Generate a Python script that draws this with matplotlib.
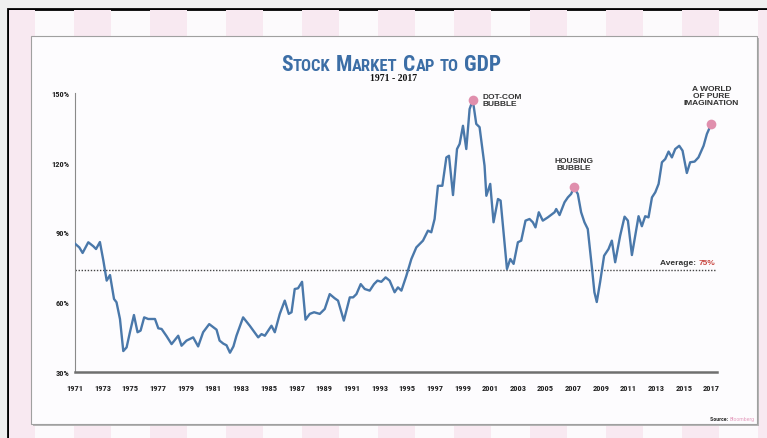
import matplotlib
matplotlib.use("Agg")
import matplotlib.pyplot as plt
from matplotlib.patches import Rectangle
from matplotlib import font_manager as fm

# market cap / GDP (%)
years = [1971.0, 1971.31, 1971.55, 1971.96, 1972.32, 1972.52, 1972.8, 1973.05, 1973.29, 1973.53,
         1973.82, 1974.0, 1974.25, 1974.49, 1974.73, 1974.97, 1975.26, 1975.52, 1975.74, 1976.0,
         1976.29, 1976.78, 1977.02, 1977.26, 1977.62, 1977.98, 1978.46, 1978.7, 1979.06, 1979.54,
         1979.9, 1980.26, 1980.7, 1981.23, 1981.45, 1981.72, 1981.95, 1982.2, 1982.45, 1982.67,
         1983.15, 1983.63, 1984.24, 1984.48, 1984.72, 1985.2, 1985.44, 1985.8, 1986.16, 1986.45,
         1986.65, 1986.88, 1987.12, 1987.41, 1987.66, 1987.97, 1988.28, 1988.69, 1989.05, 1989.41,
         1989.77, 1990.01, 1990.43, 1990.86, 1991.1, 1991.34, 1991.65, 1991.94, 1992.3, 1992.61,
         1992.86, 1993.14, 1993.45, 1993.74, 1994.1, 1994.34, 1994.59, 1994.95, 1995.31, 1995.67,
         1996.15, 1996.51, 1996.75, 1996.99, 1997.23, 1997.55, 1997.84, 1998.03, 1998.32, 1998.61,
         1998.8, 1999.04, 1999.28, 1999.52, 1999.75, 2000.0, 2000.24, 2000.6, 2000.73, 2001.01,
         2001.25, 2001.57, 2001.76, 2002.22, 2002.46, 2002.7, 2003.01, 2003.25, 2003.56, 2003.85,
         2004.09, 2004.28, 2004.52, 2004.81, 2005.17, 2005.66, 2005.78, 2006.02, 2006.38, 2006.62,
         2006.86, 2007.05, 2007.34, 2007.58, 2007.82, 2008.06, 2008.37, 2008.54, 2008.71, 2008.95,
         2009.24, 2009.56, 2009.8, 2010.04, 2010.4, 2010.72, 2010.96, 2011.25, 2011.49, 2011.73,
         2011.97, 2012.21, 2012.45, 2012.7, 2012.94, 2013.18, 2013.42, 2013.66, 2013.9, 2014.14,
         2014.38, 2014.67, 2014.91, 2015.22, 2015.46, 2015.78, 2016.06, 2016.43, 2016.67, 2016.99]
values = [85.2, 83.6, 81.2, 85.8, 84.1, 82.9, 85.9, 77.9, 69.3, 71.7,
          61.4, 60.0, 52.8, 39.0, 40.6, 47.1, 54.5, 47.1, 47.8, 53.5,
          52.8, 52.8, 48.8, 48.5, 45.4, 42.0, 45.6, 41.3, 43.5, 44.9,
          41.0, 47.1, 50.6, 48.2, 43.5, 42.2, 41.5, 38.3, 41.0, 45.6,
          53.5, 49.9, 44.9, 46.3, 45.6, 49.9, 47.1, 55.0, 60.7, 55.0,
          55.7, 65.7, 66.0, 68.8, 52.5, 55.0, 55.7, 55.0, 57.1, 63.5,
          61.7, 60.7, 52.1, 62.1, 62.1, 63.5, 67.8, 65.7, 65.0, 67.8,
          69.3, 68.8, 70.7, 69.3, 64.3, 66.4, 65.0, 71.4, 78.6, 83.6,
          86.5, 90.8, 90.1, 95.8, 110.1, 110.1, 122.3, 123.0, 106.1, 125.9,
          128.1, 135.9, 125.9, 143.1, 147.0, 136.7, 135.3, 118.7, 105.8, 110.9,
          94.4, 104.4, 103.7, 74.3, 78.6, 76.5, 85.8, 86.5, 95.1, 95.8,
          94.4, 92.2, 98.7, 95.1, 96.5, 98.7, 100.1, 97.5, 103.0, 105.1,
          106.6, 109.4, 106.6, 98.7, 94.4, 91.5, 74.3, 64.3, 60.1, 68.6,
          80.0, 82.9, 86.5, 77.2, 88.6, 96.8, 95.1, 80.3, 88.6, 97.0,
          92.7, 97.0, 96.5, 105.1, 107.3, 110.9, 120.2, 121.6, 124.8, 122.3,
          125.9, 127.3, 125.2, 115.6, 120.2, 120.5, 122.3, 127.3, 132.4, 136.7]

peak_years = [1999.75, 2007.05, 2016.99]
peak_vals = [147.0, 109.4, 136.7]
peak_labels = ["DOT-COM\nBUBBLE", "HOUSING\nBUBBLE", "A WORLD\nOF PURE\nIMAGINATION"]

average = 74.0
average_label = "75%"
y_ticks = [30, 60, 90, 120, 150]
x_ticks = list(range(1971, 2018, 2))

title = "Stock Market Cap to GDP"
subtitle = "1971 - 2017"

W, H = 767, 439

# pick a narrow sans if one is installed
fonts = fm.fontManager.ttflist
names = {f.name for f in fonts}
if "Liberation Sans Narrow" in names:
    narrow = dict(family="Liberation Sans Narrow")
elif "Roboto Condensed" in names:
    narrow = dict(family="Roboto Condensed")
elif any(f.name == "DejaVu Sans" and f.stretch == "condensed" for f in fonts):
    narrow = dict(family="DejaVu Sans", stretch="condensed")
else:
    narrow = dict(family="Liberation Sans")
wide = dict(family="Liberation Sans")


def rect(x0, y0, x1, y1, **kw):
    # pixel box (top-left origin) -> figure rectangle
    r = Rectangle((x0 / W, 1 - y1 / H), (x1 - x0) / W, (y1 - y0) / H,
                  transform=fig.transFigure, **kw)
    fig.add_artist(r)
    return r


fig = plt.figure(figsize=(W / 100, H / 100), dpi=100)
fig.patch.set_facecolor("#efefef")

# striped backdrop inside black frame
rect(8, 10, 800, 460, facecolor="#fcfafc", edgecolor="black", linewidth=2, zorder=-10)
for i in range(11):
    x0 = max(-2 + 76 * i, 9)
    rect(x0, 11, -2 + 76 * i + 37, 460, facecolor="#f8e9f1", edgecolor="none", zorder=-9)

# white card with shadow
rect(33, 39, 759, 427, facecolor="#b5b5b5", edgecolor="none", zorder=-8)
rect(31, 37, 757, 425, facecolor="#fdfcfe", edgecolor="#a0a0a0", linewidth=0.8, zorder=-7)

ax = fig.add_axes([75 / W, 1 - 373 / H, (717 - 75) / W, (373 - 94) / H])
ax.set_facecolor("none")

ax.plot(years, values, color="#4a78aa", lw=1.7, zorder=3, solid_joinstyle="round")
ax.plot(peak_years, peak_vals, "o", color="#e08fad", ms=7, mec="none", zorder=4)
ax.axhline(average, color="#444444", lw=1.0, ls=(0, (1, 1.2)), zorder=2)

ax.set_xlim(1971, 2017.4)
ax.set_ylim(30, 150)
ax.set_yticks(y_ticks)
ax.set_yticklabels([f"{v}%" for v in y_ticks])
ax.set_xticks(x_ticks)
ax.set_xticklabels([str(y) for y in x_ticks])
ax.tick_params(length=0, labelsize=6, colors="#222222")
ax.tick_params(axis="x", pad=8.5)
ax.tick_params(axis="y", pad=4)
for lab in ax.get_xticklabels() + ax.get_yticklabels():
    lab.set_fontweight("bold")
    lab.set_fontfamily(narrow["family"])
    if "stretch" in narrow:
        lab.set_fontstretch(narrow["stretch"])

for side in ["top", "right"]:
    ax.spines[side].set_visible(False)
ax.spines["left"].set_color("#8a8a8a")
ax.spines["left"].set_linewidth(0.8)
ax.spines["bottom"].set_color("#6f6f6f")
ax.spines["bottom"].set_linewidth(1.8)

# peak labels
lab_kw = dict(fontsize=6, fontweight="bold", color="#333333", linespacing=1.0,
              textcoords="offset pixels", **wide)
ax.annotate(peak_labels[0], (peak_years[0], peak_vals[0]), xytext=(10, 0),
            ha="left", va="center", **lab_kw)
ax.annotate(peak_labels[1], (peak_years[1], peak_vals[1]), xytext=(0, 23),
            ha="center", va="center", **lab_kw)
ax.annotate(peak_labels[2], (peak_years[2], peak_vals[2]), xytext=(0, 28),
            ha="center", va="center", **lab_kw)

# average label
t75 = ax.annotate(average_label, (1.0, average), xycoords=("axes fraction", "data"),
                  xytext=(-2, 4), textcoords="offset pixels", ha="right", va="bottom",
                  fontsize=6, fontweight="bold", color="#c8453f", **wide)
ax.annotate("Average: ", (0, 0), xycoords=t75, ha="right", va="bottom",
            fontsize=6, fontweight="bold", color="#333333", **wide)

# source note
ts = fig.text(755 / W, 1 - 421 / H, "Bloomberg", ha="right", va="baseline",
              fontsize=4.2, color="#e6a3c2", **narrow)
ax.annotate("Source: ", (0, 0), xycoords=ts, ha="right", va="bottom",
            fontsize=4.2, fontweight="bold", color="#333333", annotation_clip=False, **narrow)

# small-caps title built from runs of big/small letters
runs = []
for wi, word in enumerate(title.split()):
    for ch in word:
        big = ch.isupper()
        if runs and runs[-1][1] == big and runs[-1][2] == wi:
            runs[-1][0] += ch.upper()
        else:
            runs.append([ch.upper(), big, wi])

title_color = "#3c6ea6"
base_y = 1 - 71 / H
pieces = []
for text, big, wi in runs:
    t = fig.text(0, base_y, text, fontsize=15.5 if big else 12, fontweight="bold",
                 color=title_color, ha="left", va="baseline", **narrow)
    pieces.append(t)

fig.canvas.draw()
renderer = fig.canvas.get_renderer()
widths = [p.get_window_extent(renderer).width for p in pieces]
gaps = [0] + [5 if runs[i][2] != runs[i - 1][2] else 0.5 for i in range(1, len(runs))]
total = sum(widths) + sum(gaps)
x = 391 - total / 2
for p, w, g in zip(pieces, widths, gaps):
    x += g
    p.set_x(x / W)
    x += w

fig.text(394 / W, 1 - 79 / H, subtitle, ha="center", va="center", fontsize=7,
         fontweight="bold", family="Liberation Serif", color="#111111")

fig.savefig("out.png", dpi=100)
